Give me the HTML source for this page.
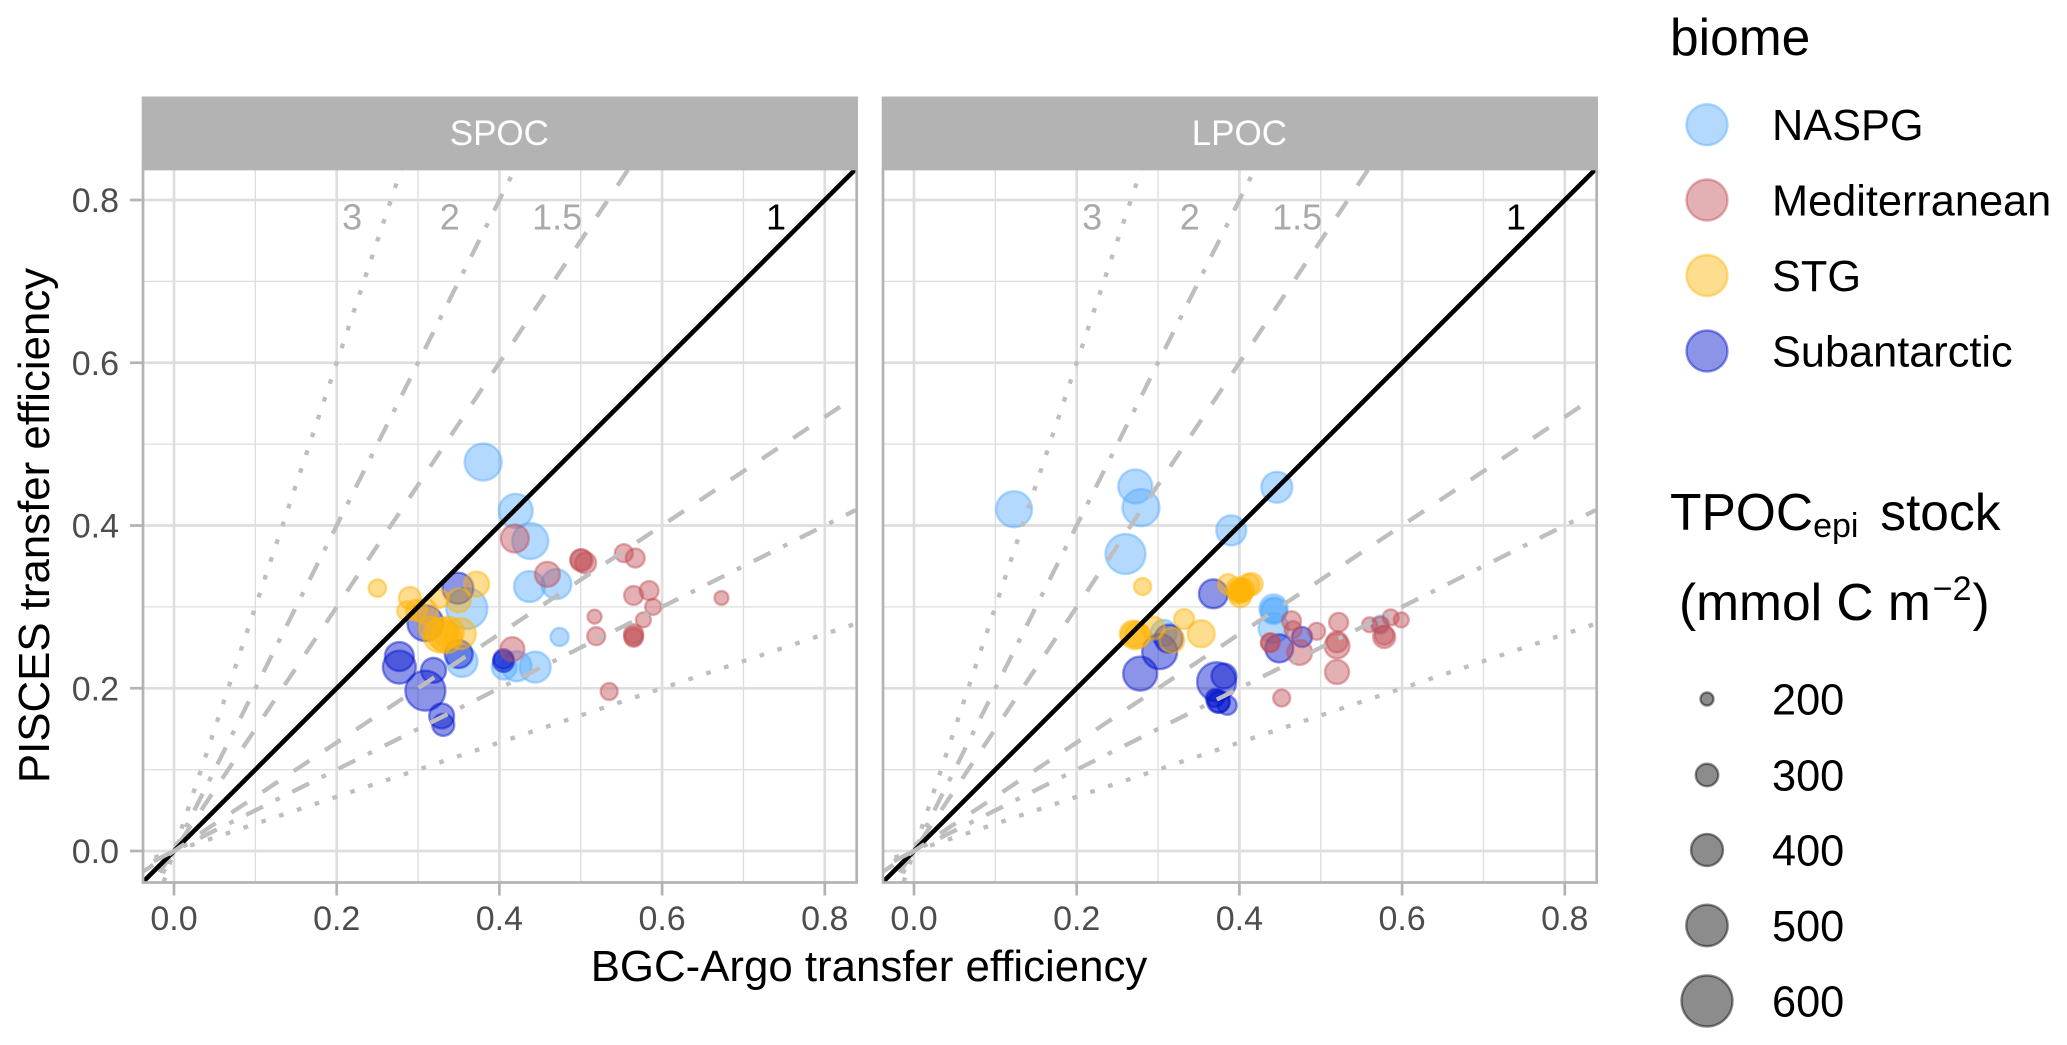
<!DOCTYPE html>
<html lang="en">
<head>
<meta charset="utf-8">
<title>BGC-Argo vs PISCES transfer efficiency</title>
<style>
html,body{margin:0;padding:0;background:#fff;width:2067px;height:1045px;overflow:hidden}
svg{display:block;font-family:"Liberation Sans",Arial,sans-serif}
</style>
</head>
<body>
<svg id="chart" xmlns="http://www.w3.org/2000/svg" width="2067" height="1045" viewBox="0 0 2067 1045">
  <rect width="2067" height="1045" fill="#fff"/>
  <text x="869" y="981" font-size="43.8" text-anchor="middle" fill="#000">BGC-Argo transfer efficiency</text>
  <text transform="translate(49,525.5) rotate(-90)" font-size="43.8" text-anchor="middle" fill="#000">PISCES transfer efficiency</text>

  <g id="biome-legend">
    <text x="1670" y="55" font-size="51.5" fill="#000">biome</text>
  </g>
  <g id="size-legend">
    <text x="1670" y="530" font-size="51.5" fill="#000">TPOC<tspan font-size="34" dy="7">epi</tspan><tspan dy="-7" dx="7.5"> stock</tspan></text>
    <text x="1679" y="620" font-size="51.5" fill="#000">(mmol C m<tspan font-size="34" dy="-20" dx="2">−2</tspan><tspan dy="20" dx="1">)</tspan></text>
  </g>
</svg>
<script>
// ---- chart data (x efficiency, y efficiency, TPOC stock) ----
const panels = ['SPOC', 'LPOC'];
const biomes = ['NASPG', 'Mediterranean', 'STG', 'Subantarctic'];
const sizeBreaks = [200, 300, 400, 500, 600];
const xTicks = [0, 0.2, 0.4, 0.6, 0.8];
const yTicks = [0, 0.2, 0.4, 0.6, 0.8];
const minorTicks = [0.1, 0.3, 0.5, 0.7];
const ratioSlopes = [3, 2, 1.5, 1, 0.6667, 0.5, 0.3333];
const ratioDash = ['dotted', 'dotdash', 'dashed', 'solid', 'dashed', 'dotdash', 'dotted'];
const ratioLabels = ['3', '2', '1.5', '1'];
const ratioLabelX = [0.219, 0.339, 0.471, 0.74];
const ratioLabelY = 0.78;

const spocNaspg = [[0.380,0.478,453],[0.420,0.418,421],[0.438,0.381,442],[0.360,0.298,495],[0.354,0.233,389],[0.437,0.325,389],[0.470,0.328,379],[0.474,0.263,253],[0.406,0.226,326],[0.421,0.227,379],[0.444,0.226,389]];
const spocSub = [[0.349,0.323,389],[0.309,0.280,442],[0.350,0.242,358],[0.277,0.239,368],[0.277,0.226,411],[0.319,0.222,326],[0.309,0.197,484],[0.329,0.166,326],[0.331,0.155,295],[0.405,0.233,284],[0.405,0.236,270]];
const spocMed = [[0.416,0.248,316],[0.459,0.340,326],[0.419,0.384,358],[0.501,0.357,295],[0.506,0.354,284],[0.500,0.358,284],[0.553,0.366,253],[0.567,0.360,263],[0.565,0.314,263],[0.584,0.320,263],[0.589,0.300,232],[0.577,0.284,221],[0.673,0.311,210],[0.517,0.288,210],[0.519,0.264,253],[0.565,0.267,263],[0.565,0.264,263],[0.565,0.262,253],[0.535,0.196,242]];
const spocStg = [[0.250,0.323,247],[0.290,0.311,295],[0.286,0.295,263],[0.309,0.294,326],[0.298,0.296,284],[0.327,0.310,253],[0.372,0.328,326],[0.350,0.308,316],[0.352,0.267,389],[0.327,0.265,421],[0.337,0.269,389],[0.315,0.274,305],[0.335,0.262,389],[0.330,0.267,400]];

const lpocNaspg = [[0.123,0.420,442],[0.272,0.448,421],[0.279,0.422,453],[0.260,0.365,484],[0.446,0.447,389],[0.390,0.394,379],[0.307,0.268,337],[0.442,0.298,358],[0.443,0.296,326],[0.442,0.295,340],[0.442,0.274,379],[0.573,0.278,253]];
const lpocSub = [[0.368,0.316,368],[0.313,0.261,358],[0.302,0.245,432],[0.278,0.218,421],[0.372,0.208,474],[0.381,0.215,326],[0.374,0.184,305],[0.370,0.188,253],[0.385,0.179,263],[0.375,0.183,284],[0.449,0.249,358],[0.477,0.263,274]];
const lpocMed = [[0.438,0.256,263],[0.438,0.256,253],[0.464,0.283,263],[0.466,0.272,242],[0.474,0.244,326],[0.495,0.270,242],[0.522,0.281,263],[0.520,0.257,284],[0.520,0.252,326],[0.520,0.220,316],[0.452,0.188,242],[0.560,0.278,221],[0.573,0.278,232],[0.586,0.287,232],[0.599,0.284,221],[0.578,0.263,295],[0.578,0.265,263]];
const lpocStg = [[0.281,0.325,242],[0.272,0.265,358],[0.269,0.267,337],[0.275,0.265,326],[0.294,0.274,305],[0.332,0.285,274],[0.353,0.267,347],[0.317,0.259,326],[0.386,0.328,274],[0.415,0.328,295],[0.411,0.327,295],[0.401,0.319,295],[0.398,0.322,305],[0.404,0.321,305],[0.401,0.313,295],[0.403,0.320,305],[0.399,0.318,295]];

// ---- layout and style ----
const NS = 'http://www.w3.org/2000/svg';
const svg = document.getElementById('chart');
const panelBoxes = [{x0: 174, left: 143, right: 856.7}, {x0: 914, left: 883, right: 1596.7}];
const top_ = 169, bottom_ = 882.5, yZero = 851, xUnit = 813.5, yUnit = 813.75;
const xLimits = [-0.038, 0.838];
const biomeColors = {NASPG: '#56abff', Mediterranean: '#c14f56', STG: '#ffb406', Subantarctic: '#0011cc'};
const dashPatterns = {solid: '', dashed: '18.76 18.76', dotted: '4.69 14.07', dotdash: '4.69 14.07 18.76 14.07'};
const dashShift = [10, 7.5, 7.5, 0, 6.5, 6.7, 6.7];

function xScale(box, v) { return box.x0 + v * xUnit; }
function yScale(v) { return yZero - v * yUnit; }
function sizeScale(s) { return 15 + 0.095 * (s - 200); }
function make(tag, attrs, parent) {
  const e = document.createElementNS(NS, tag);
  for (const k in attrs) e.setAttribute(k, attrs[k]);
  parent.appendChild(e);
  return e;
}
function addDot(parent, cx, cy, d, color, name) {
  const dot = make('circle', {cx: cx, cy: cy, r: d / 2 - 1, fill: color, 'fill-opacity': 0.45, stroke: color, 'stroke-opacity': 0.45, 'stroke-width': 2.4}, parent);
  
  
  return dot;
}

const defs = make('defs', {}, svg);

panelBoxes.forEach(function (box, i) {
  const title = panels[i];
  const low = title.toLowerCase();
  const g = make('g', {}, svg);
  
  

  const clip = make('clipPath', {id: 'clip-' + low}, defs);
  make('rect', {x: box.left, y: top_, width: box.right - box.left, height: bottom_ - top_}, clip);

  const bg = make('rect', {x: box.left, y: top_, width: box.right - box.left, height: bottom_ - top_, fill: '#fff'}, g);
  
  

  // grid
  minorTicks.forEach(function (t) {
    const v = make('line', {x1: xScale(box, t), x2: xScale(box, t), y1: top_, y2: bottom_, stroke: '#dedede', 'stroke-width': 1.35}, g);
    
    
    const h = make('line', {y1: yScale(t), y2: yScale(t), x1: box.left, x2: box.right, stroke: '#dedede', 'stroke-width': 1.35}, g);
    
    
  });
  xTicks.forEach(function (t) {
    const v = make('line', {x1: xScale(box, t), x2: xScale(box, t), y1: top_, y2: bottom_, stroke: '#dedede', 'stroke-width': 2.7}, g);
    
    
  });
  yTicks.forEach(function (t) {
    const h = make('line', {y1: yScale(t), y2: yScale(t), x1: box.left, x2: box.right, stroke: '#dedede', 'stroke-width': 2.7}, g);
    
    
  });

  // points
  const pointsG = make('g', {'clip-path': 'url(#clip-' + low + ')'}, g);
  
  
  const series = i === 0
    ? [[spocNaspg, 'NASPG'], [spocSub, 'Subantarctic'], [spocMed, 'Mediterranean'], [spocStg, 'STG']]
    : [[lpocNaspg, 'NASPG'], [lpocSub, 'Subantarctic'], [lpocMed, 'Mediterranean'], [lpocStg, 'STG']];
  series.forEach(function (s) {
    s[0].forEach(function (p) {
      addDot(pointsG, xScale(box, p[0]), yScale(p[1]), sizeScale(p[2]), biomeColors[s[1]], 'point-' + s[1].toLowerCase());
    });
  });

  // ratio lines
  const linesG = make('g', {'clip-path': 'url(#clip-' + low + ')'}, g);
  
  
  ratioSlopes.forEach(function (m, k) {
    const isOne = m === 1;
    const ln = make('line', {
      x1: xScale(box, xLimits[0]), y1: yScale(m * xLimits[0]),
      x2: xScale(box, xLimits[1]), y2: yScale(m * xLimits[1]),
      stroke: isOne ? '#000' : '#bebebe', 'stroke-width': isOne ? 4.6 : 4.3
    }, linesG);
    if (dashPatterns[ratioDash[k]]) {
      ln.setAttribute('stroke-dasharray', dashPatterns[ratioDash[k]]);
      ln.setAttribute('stroke-dashoffset', dashShift[k]);
    }
    
    
  });
  ratioLabels.forEach(function (lab, k) {
    const t = make('text', {x: xScale(box, ratioLabelX[k]), y: yScale(ratioLabelY) + 13, 'text-anchor': 'middle', 'font-size': 36, fill: lab === '1' ? '#000' : '#a9a9a9'}, g);
    t.textContent = lab;
    
    
  });

  // border
  const border = make('rect', {x: box.left, y: top_, width: box.right - box.left, height: bottom_ - top_, fill: 'none', stroke: '#b3b3b3', 'stroke-width': 2.7}, g);
  
  

  // strip
  const strip = make('rect', {x: box.left - 1.3, y: 96.5, width: box.right - box.left + 2.6, height: 72.5, fill: '#b3b3b3'}, g);
  
  
  const stripText = make('text', {x: (box.left + box.right) / 2 - 0.5, y: 145, 'text-anchor': 'middle', 'font-size': 35, fill: '#fff'}, g);
  stripText.textContent = title;
  
  

  // x axis
  xTicks.forEach(function (t) {
    const tk = make('line', {x1: xScale(box, t), x2: xScale(box, t), y1: bottom_, y2: bottom_ + 13, stroke: '#b3b3b3', 'stroke-width': 2.7}, g);
    
    
    const tl = make('text', {x: xScale(box, t), y: 930, 'text-anchor': 'middle', 'font-size': 34, fill: '#4d4d4d'}, g);
    tl.textContent = t.toFixed(1);
    
    
  });

  // y axis (left panel only)
  if (i === 0) {
    yTicks.forEach(function (t) {
      const tk = make('line', {y1: yScale(t), y2: yScale(t), x1: box.left - 13, x2: box.left, stroke: '#b3b3b3', 'stroke-width': 2.7}, g);
      
      
      const tl = make('text', {x: 119, y: yScale(t) + 12, 'text-anchor': 'end', 'font-size': 34, fill: '#4d4d4d'}, g);
      tl.textContent = t.toFixed(1);
      
      
    });
  }
});

// legends
const biomeLegend = document.getElementById('biome-legend');
const biomeKeyY = [124.7, 200, 275.5, 351];
biomes.forEach(function (b, i) {
  addDot(biomeLegend, 1707, biomeKeyY[i], 43, biomeColors[b], 'legend-key-' + b.toLowerCase());
  const t = make('text', {x: 1772, y: biomeKeyY[i] + 15.5, 'font-size': 43.3, fill: '#000'}, biomeLegend);
  t.textContent = b;
  
  
});
const sizeLegend = document.getElementById('size-legend');
const sizeKeyY = [699, 775, 850, 925.5, 1001];
sizeBreaks.forEach(function (s, i) {
  addDot(sizeLegend, 1707, sizeKeyY[i], sizeScale(s), '#000', 'size-key-' + s);
  const t = make('text', {x: 1772, y: sizeKeyY[i] + 15.5, 'font-size': 43.3, fill: '#000'}, sizeLegend);
  t.textContent = String(s);
  
  
});
</script>
</body>
</html>
